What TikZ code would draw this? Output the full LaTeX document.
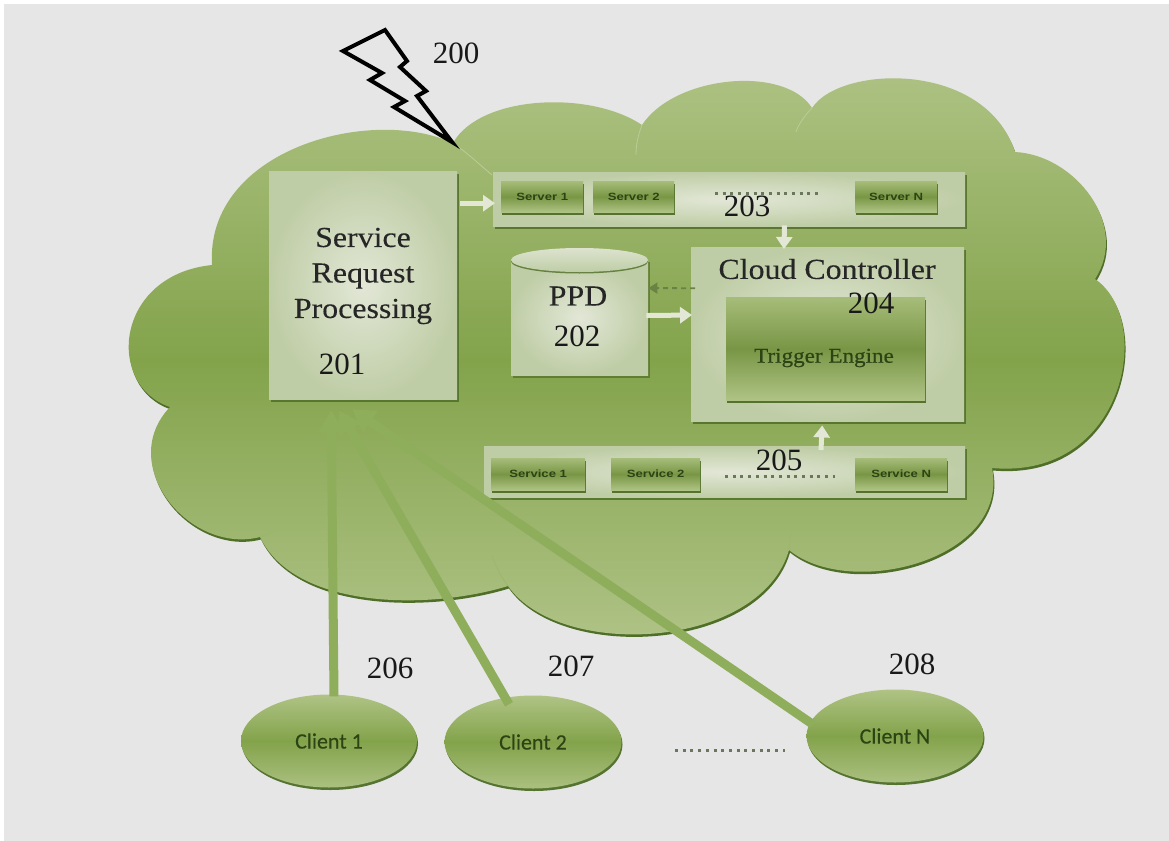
\documentclass[tikz,border=0pt]{standalone}
\usepackage{fontspec}
\setmainfont{Liberation Serif}
\newfontfamily\headfont[FakeStretch=1.1,FakeBold=0.25]{Liberation Serif}
\newfontfamily\trigfont[FakeStretch=1.1,FakeBold=0.6]{Liberation Serif}
\newfontfamily\clientfont[FakeBold=0.3]{Carlito}
\newfontfamily\smallfont[FakeStretch=1.25]{Liberation Sans}
\usetikzlibrary{calc,arrows.meta,shapes.geometric,shadows}
\definecolor{bgc}{HTML}{E6E6E6}
\definecolor{dkgreen}{HTML}{4F6E28}
\definecolor{linegreen}{HTML}{8FAE5C}
\definecolor{cloudmid}{HTML}{83A34B}
\definecolor{cloudtop}{HTML}{AFC385}
\definecolor{panelin}{HTML}{E2E7D6}
\definecolor{panelout}{HTML}{BFCDA6}
\definecolor{inktext}{HTML}{2C4414}
\tikzset{
  x=1pt,y=-1pt,
  panel/.style={inner color=panelin,outer color=panelout,minimum width=#1,inner sep=0pt,rectangle,
    drop shadow={shadow xshift=1.5pt,shadow yshift=-2.5pt,fill=dkgreen,opacity=.85}},
  btn/.style={top color=cloudtop!80!cloudmid,bottom color=cloudtop,middle color=cloudmid!92!black,rectangle,inner sep=0pt,
    drop shadow={shadow xshift=1pt,shadow yshift=-2.5pt,fill=dkgreen,opacity=.95},font=\smallfont\fontsize{10.5}{12}\selectfont\bfseries,text=inktext},
  client/.style={ellipse,top color=cloudtop,bottom color=cloudtop!90!cloudmid,middle color=cloudmid,inner sep=0pt,
    drop shadow={shadow xshift=1pt,shadow yshift=-2.5pt,fill=dkgreen,opacity=.95},font=\clientfont\fontsize{22}{24}\selectfont,text=inktext},
  num/.style={font=\fontsize{31}{33}\selectfont,text=black!90,inner sep=0pt},
  whitearrow/.style={draw=panelin,line width=5pt,-{Triangle[length=12pt,width=16pt]}},
  clientline/.style={draw=linegreen,line width=9pt,-{Triangle[length=22pt,width=25pt]}},
  dots/.style={draw=black!45!dkgreen!70!white,line width=3pt,dash pattern=on 3pt off 4.7pt},
  head/.style={font=\headfont\fontsize{29}{35.5}\selectfont,text=black!85,inner sep=0pt,align=center},
}
\newcommand{\cloudoutline}{
 (453,143) .. controls (480,95) and (590,90) .. (642,125)
 .. controls (675,75) and (785,65) .. (812,108)
 .. controls (840,65) and (985,60) .. (1015,152)
 .. controls (1075,155) and (1130,225) .. (1095,279)
 .. controls (1155,320) and (1125,480) .. (992,468)
 .. controls (1010,560) and (850,600) .. (789,550)
 .. controls (760,650) and (560,660) .. (508,586)
 .. controls (430,610) and (295,610) .. (260,537)
 .. controls (190,555) and (115,465) .. (170,407)
 .. controls (105,385) and (115,275) .. (212,265)
 .. controls (205,150) and (370,105) .. (453,143) -- cycle}
\begin{document}
\begin{tikzpicture}
\useasboundingbox (0,0) rectangle (1169,840);
\fill[white] (0,0) rectangle (1169,840);
\fill[bgc] (4,4) rectangle (1172,843);
% cloud
\fill[dkgreen,xshift=1pt,yshift=-2.5pt] \cloudoutline;
\shade[top color=cloudtop,bottom color=cloudtop!95!bgc,middle color=cloudmid] \cloudoutline;
% soft lobe seams
\draw[cloudtop!85!white,line width=.8pt] (453,143) .. controls (470,155) and (480,165) .. (492,175);
\draw[cloudtop!85!white,line width=.8pt] (642,125) .. controls (638,135) and (636,145) .. (636,155);
\draw[cloudtop!85!white,line width=.8pt] (812,108) .. controls (805,115) and (798,125) .. (796,132);
\draw[cloudtop!60!cloudmid,line width=.8pt] (260,537) .. controls (270,532) and (280,530) .. (290,528);
\draw[cloudtop!60!cloudmid,line width=.8pt] (508,586) .. controls (500,575) and (495,565) .. (492,555);
\draw[cloudtop!60!cloudmid,line width=.8pt] (789,550) .. controls (790,535) and (792,525) .. (792,512);
% boxes
\node[panel=188pt,minimum height=228pt,anchor=north west] (req) at (269,171) {};
\node[head] (reqtext) at (363,276) {Service\\Request\\Processing};
\node[panel=472pt,minimum height=54pt,anchor=north west] (srv) at (493,172) {};
\node[panel=481pt,minimum height=51pt,anchor=north west] (svc) at (484,446) {};
\node[panel=273pt,minimum height=174pt,anchor=north west] (ctrl) at (691,247) {};
\node[btn,minimum width=199pt,minimum height=103pt,anchor=north west] (trig) at (726,297) {};
\node[font=\trigfont\fontsize{21}{24}\selectfont,text=inktext,inner sep=0pt] (trigtext) at (824,358) {Trigger Engine};
\node[font=\headfont\fontsize{29}{32}\selectfont,text=black!85,inner sep=0pt] (ctrltext) at (827,269) {Cloud Controller};
% servers
\node[btn,minimum width=82pt,minimum height=31pt,anchor=north west] (s1) at (501,181) {Server 1};
\node[btn,minimum width=81pt,minimum height=31pt,anchor=north west] (s2) at (593,181) {Server 2};
\node[btn,minimum width=82pt,minimum height=31pt,anchor=north west] (sn) at (855,181) {Server N};
\node[btn,minimum width=94pt,minimum height=32pt,anchor=north west] (v1) at (491,458) {Service 1};
\node[btn,minimum width=89pt,minimum height=32pt,anchor=north west] (v2) at (611,458) {Service 2};
\node[btn,minimum width=92pt,minimum height=32pt,anchor=north west] (vn) at (855,458) {Service N};
% cylinder
\path[fill=dkgreen,opacity=.7] (513,262) rectangle (650,378);
\shade[inner color=panelin,outer color=panelout] (511,260) rectangle (648,375);
\fill[dkgreen,opacity=.8] (579.5,261.5) ellipse [x radius=68.5,y radius=12];
\shade[top color=panelin!85!panelout,bottom color=panelout] (579.5,260) ellipse [x radius=68.5,y radius=12];
\node[inner sep=0pt,minimum width=137pt,minimum height=127pt,anchor=north west] (ppd) at (511,248) {};
\node[font=\headfont\fontsize{29}{32}\selectfont,text=black!85,inner sep=0pt] (ppdtext) at (578,296) {PPD};
% dotted
\coordinate (d1a) at (715,193); \coordinate (d1b) at (822,193);
\coordinate (d2a) at (725,476); \coordinate (d2b) at (835,476);
\coordinate (d3a) at (675,750); \coordinate (d3b) at (785,750);
\draw[dots] (d1a) -- (d1b);
\draw[dots] (d2a) -- (d2b);
\draw[dots] (d3a) -- (d3b);
% arrows
\draw[whitearrow] ($(req.east |- srv.west)+(3,4)$) -- ($(srv.west)+(2,4)$);
\draw[whitearrow] ($(srv.south west)!.617!(srv.south east)+(0,-1)$) -- ($(ctrl.north west)!.34!(ctrl.north east)+(0,2)$);
\draw[whitearrow] ($(svc.north west)!.70!(svc.north east)+(0,4)$) -- ($(ctrl.south west)!.48!(ctrl.south east)+(0,4)$);
\draw[-{Triangle[length=9pt,width=11pt]},draw=linegreen!75!black,line width=1.8pt,dash pattern=on 5pt off 4pt] ($(ctrl.north west)!.236!(ctrl.south west)+(4,0)$) -- ($(ppd.north east)!.315!(ppd.south east)$);
\draw[whitearrow] ($(ppd.north east)!.53!(ppd.south east)+(-2,0)$) -- ($(ctrl.north west)!.39!(ctrl.south west)+(1,0)$);
% clients
\node[client,minimum width=176pt,minimum height=93pt] (c1) at (329,741) {Client 1};
\node[client,minimum width=177pt,minimum height=93pt] (c2) at (533,742) {Client 2};
\node[client,minimum width=177pt,minimum height=93pt] (cn) at (895,736) {Client N};
\draw[clientline] ($(c1.north)+(5,2)$) -- ($(req.south)+(-32,11)$);
\draw[clientline] ($(c2.north)+(-24,9)$) -- ($(req.south)+(-24,11)$);
\draw[clientline] ($(cn.west)+(6,-12)$) -- ($(req.south)+(-11,10)$);
% lightning
\draw[line width=4pt,line join=miter,draw=black] (385,30) -- (343,51) -- (382,73) -- (370,80) -- (405,101) -- (394,107) -- (452,142) -- (417,96) -- (426,91) -- (400,67) -- (407,61) -- cycle;
% numbers
\node[num] (n200) at (456,53) {200};
\node[num] (n201) at (342,364) {201};
\node[num] (n202) at (577,336) {202};
\node[num] (n203) at (747,206) {203};
\node[num] (n204) at (871,303) {204};
\node[num] (n205) at (779,460) {205};
\node[num] (n206) at (390,668) {206};
\node[num] (n207) at (571,666) {207};
\node[num] (n208) at (912,664) {208};
\end{tikzpicture}
\end{document}
